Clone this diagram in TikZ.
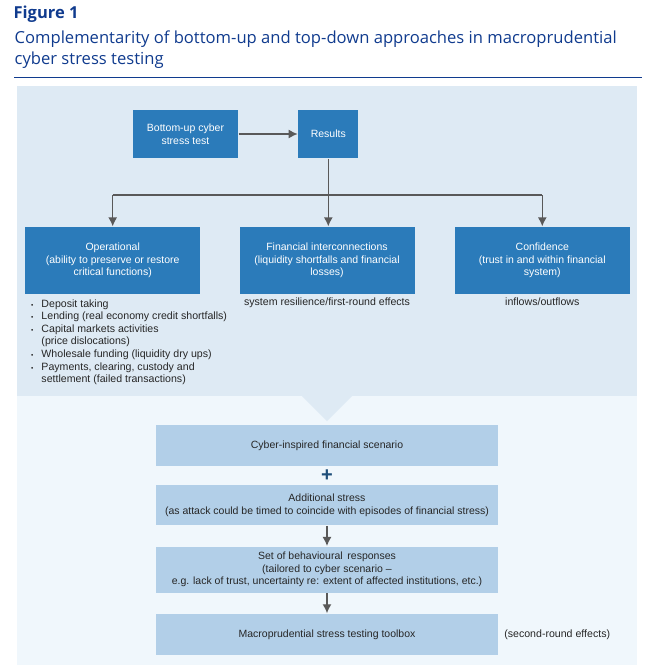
\documentclass[tikz,border=0pt]{standalone}
\usepackage{fontspec}
\setmainfont{Open Sans}
\newfontfamily\diagfont{Liberation Sans}
\usetikzlibrary{positioning,arrows.meta,shapes,calc}
\definecolor{boxblue}{HTML}{2B7BBA}
\definecolor{paleblue}{HTML}{B2CFE8}
\definecolor{panelTop}{HTML}{DEEAF4}
\definecolor{panelBot}{HTML}{F0F7FC}
\definecolor{titleblue}{HTML}{103B8E}
\definecolor{linegrey}{HTML}{595959}
\definecolor{plusblue}{HTML}{1F4F7A}
\def\gapx{38pt}
\def\gapy{19pt}
\tikzstyle{darkbox}=[fill=boxblue,text=white,align=center,inner sep=0pt,
  font=\diagfont\fontsize{10.5}{12.5}\selectfont]
\tikzstyle{palebox}=[fill=paleblue,text=black!85,align=center,inner sep=0pt,
  minimum width=342pt,font=\diagfont\fontsize{10.5}{12.5}\selectfont]
\tikzstyle{note}=[text=black!85,inner sep=0pt,font=\diagfont\fontsize{10.6}{12.6}\selectfont]
\newcommand{\newBox}[4]{\node[#3](#1)[#4]{#2};}
\newcommand{\newArrow}[2]{\draw[->] (#1) -- (#2);}
\newcommand{\blt}{{\fontsize{6.5}{6}\selectfont\textbullet}}

\begin{document}
\begin{tikzpicture}[x=1pt,y=-1pt,node distance=\gapy and \gapx,
      >={Latex[length=9pt,width=9pt]},line width=1.3pt,draw=linegrey
      ]
      \useasboundingbox (0,0) rectangle (655,665);
      % heading
      \node[anchor=base west,inner sep=0pt,text=titleblue,font=\bfseries\fontsize{16.5}{18}\selectfont] (fig) at (13,18) {Figure 1};
      \node[anchor=base west,inner sep=0pt,text=titleblue,align=left,font=\fontsize{16.6}{20.5}\selectfont] (title) at (14,64)
        {Complementarity of bottom-up and top-down approaches in macroprudential\\cyber stress testing};
      \draw[titleblue,line width=1pt] (14,77) -- (642,77);
      % panels
      \fill[panelBot] (17,396) rectangle (637,665);
      \fill[panelTop] (17,86) rectangle (637,396);
      \fill[panelTop] (302,396) -- (352,396) -- (327,421) -- cycle;
      % bottom-up part
      \newBox{bu}{Bottom-up cyber\\stress test}{darkbox,minimum width=105pt,minimum height=48pt}{at={(185.5,134)}}
      \newBox{res}{Results}{darkbox,minimum width=60pt,minimum height=48pt}{right=59pt of bu}
      \newBox{fin}{Financial interconnections\\(liquidity shortfalls and financial\\losses)}{darkbox,minimum width=175pt,minimum height=67pt}{at={(327,260.5)}}
      \newBox{op}{Operational\\(ability to preserve or restore\\critical functions)}{darkbox,minimum width=175pt,minimum height=67pt}{left=of fin}
      \newBox{conf}{Confidence\\(trust in and within financial\\system)}{darkbox,minimum width=175pt,minimum height=67pt}{right=39pt of fin}
      \draw[linegrey,->] (bu) -- (res);
      \coordinate (split) at (res.center |- 0,195);
      \draw[linegrey] (res.south) -- (split);
      \draw[linegrey] (op.north |- split) -- (conf.north |- split);
      \draw[linegrey,->] (op.north |- split) -- (op.north);
      \draw[linegrey,->] (split) -- (split |- fin.north);
      \draw[linegrey,->] (conf.north |- split) -- (conf.north);
      % effects
      \node[note,anchor=north] (finfx) at ([yshift=-3pt]fin.south) {system resilience/first-round effects};
      \node[note,anchor=north] (conffx) at ([yshift=-3pt]conf.south) {inflows/outflows};
      \node[note,anchor=north west] (opfx) at ([xshift=6pt,yshift=-3pt]op.south west)
        {\begin{tabular}{@{}l@{\hspace{8pt}}l@{}}
          \blt & Deposit taking\\
          \blt & Lending (real economy credit shortfalls)\\
          \blt & Capital markets activities\\
            & (price dislocations)\\
          \blt & Wholesale funding (liquidity dry ups)\\
          \blt & Payments, clearing, custody and\\
            & settlement (failed transactions)
        \end{tabular}};
      % top-down part
      \newBox{scen}{Cyber-inspired financial scenario}{palebox,minimum height=41pt}{at={(327,445.5)}}
      \newBox{add}{Additional stress\\(as attack could be timed to coincide with episodes of financial stress)}{palebox,minimum height=40pt}{below=18pt of scen}
      \newBox{beh}{Set of behavioural\, responses\\(tailored to cyber scenario \textendash\\e.g. lack of trust, uncertainty re: extent of affected institutions, etc.)}{palebox,minimum height=46pt}{below=20pt of add}
      \newBox{tool}{Macroprudential stress testing toolbox}{palebox,minimum height=41pt}{below=20pt of beh}
      \node[text=plusblue,inner sep=0pt,font=\diagfont\bfseries\fontsize{20}{20}\selectfont] (plus) at ($(scen.south)!0.5!(add.north)$) {+};
      \newArrow{add}{beh}
      \newArrow{beh}{tool}
      \node[note,right=5pt of tool] (toolfx) {(second-round effects)};
    \end{tikzpicture}
\end{document}
